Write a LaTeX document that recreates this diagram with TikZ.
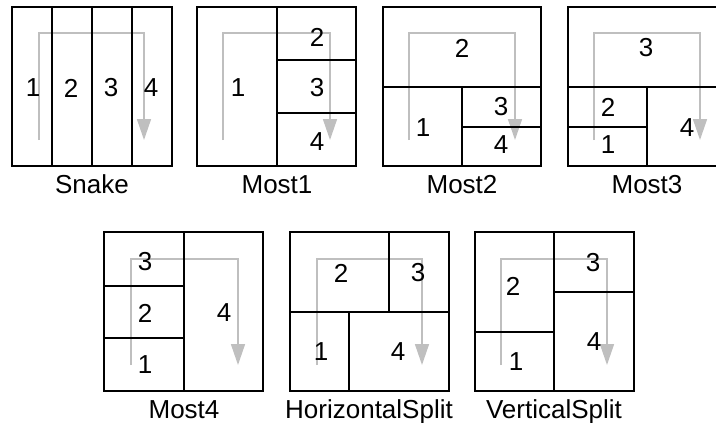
\documentclass[tikz,border=0pt]{standalone}
\usepackage{fontspec}
\setmainfont{Liberation Sans}
\usetikzlibrary{arrows.meta}

\begin{document}
\begin{tikzpicture}[x=1pt,y=-1pt]
\tikzset{
  cellline/.style={draw=black,line width=1.6pt,line join=miter},
  flowline/.style={draw=black!25,line width=1.6pt,-{Triangle[length=21pt,width=14pt]}},
  numlabel/.style={inner sep=0pt,font=\fontsize{26}{31}\selectfont},
  caption/.style={inner sep=0pt,anchor=base,font=\fontsize{26}{31}\selectfont}
}
\useasboundingbox (0,0) rectangle (716,423);
% flow arrows (behind the cells)
\coordinate (snake_s) at (39,140);  \coordinate (snake_t) at (144,33);  \coordinate (snake_e) at (144,140);
\coordinate (most1_s) at (223,140); \coordinate (most1_t) at (330,33);  \coordinate (most1_e) at (330,140);
\coordinate (most2_s) at (409,140); \coordinate (most2_t) at (515,33);  \coordinate (most2_e) at (515,140);
\coordinate (most3_s) at (594,140); \coordinate (most3_t) at (700,33);  \coordinate (most3_e) at (700,140);
\coordinate (most4_s) at (131,365); \coordinate (most4_t) at (238,259); \coordinate (most4_e) at (238,365);
\coordinate (hsplit_s) at (317,365); \coordinate (hsplit_t) at (422,259); \coordinate (hsplit_e) at (422,365);
\coordinate (vsplit_s) at (501,365); \coordinate (vsplit_t) at (607,259); \coordinate (vsplit_e) at (607,365);
\foreach \lay in {snake,most1,most2,most3,most4,hsplit,vsplit}
  \draw[flowline] (\lay_s) |- (\lay_t) -- (\lay_e);
% Snake
\draw[cellline] (12,7) rectangle (172,166);
\draw[cellline] (52,7) -- (52,166) (92,7) -- (92,166) (132,7) -- (132,166);
% Most1
\draw[cellline] (197,7) rectangle (356,166);
\draw[cellline] (277,7) -- (277,166) (277,60) -- (356,60) (277,113) -- (356,113);
% Most2
\draw[cellline] (383,7) rectangle (541,166);
\draw[cellline] (383,87) -- (541,87) (462,87) -- (462,166) (462,127) -- (541,127);
% Most3
\draw[cellline] (568,7) rectangle (727,166);
\draw[cellline] (568,87) -- (727,87) (647,87) -- (647,166) (568,127) -- (647,127);
% Most4
\draw[cellline] (104,232) rectangle (263,391);
\draw[cellline] (184,232) -- (184,391) (104,286) -- (184,286) (104,338) -- (184,338);
% HorizontalSplit
\draw[cellline] (290,232) rectangle (449,391);
\draw[cellline] (290,312) -- (449,312) (389,232) -- (389,312) (349,312) -- (349,391);
% VerticalSplit
\draw[cellline] (475,232) rectangle (634,391);
\draw[cellline] (554,232) -- (554,391) (475,332) -- (554,332) (554,292) -- (634,292);
% cell numbers
\node[numlabel] (snake1) at (33,88) {1};
\node[numlabel] (snake2) at (71,88) {2};
\node[numlabel] (snake3) at (111,88) {3};
\node[numlabel] (snake4) at (151,88) {4};
\node[numlabel] (most1_1) at (238,88) {1};
\node[numlabel] (most1_2) at (317,37) {2};
\node[numlabel] (most1_3) at (317,88) {3};
\node[numlabel] (most1_4) at (317,142) {4};
\node[numlabel] (most2_1) at (423,128) {1};
\node[numlabel] (most2_2) at (462,48) {2};
\node[numlabel] (most2_3) at (501,107) {3};
\node[numlabel] (most2_4) at (501,145) {4};
\node[numlabel] (most3_1) at (608,145) {1};
\node[numlabel] (most3_2) at (608,107) {2};
\node[numlabel] (most3_3) at (646,48) {3};
\node[numlabel] (most3_4) at (687,128) {4};
\node[numlabel] (most4_1) at (145,365) {1};
\node[numlabel] (most4_2) at (145,313) {2};
\node[numlabel] (most4_3) at (145,262) {3};
\node[numlabel] (most4_4) at (224,313) {4};
\node[numlabel] (hsplit1) at (321,352) {1};
\node[numlabel] (hsplit2) at (341,273) {2};
\node[numlabel] (hsplit3) at (418,273) {3};
\node[numlabel] (hsplit4) at (398,352) {4};
\node[numlabel] (vsplit1) at (516,362) {1};
\node[numlabel] (vsplit2) at (513,286) {2};
\node[numlabel] (vsplit3) at (593,263) {3};
\node[numlabel] (vsplit4) at (594,342) {4};
% captions
\node[caption] (snake_cap) at (92,193) {Snake};
\node[caption] (most1_cap) at (277,193) {Most1};
\node[caption] (most2_cap) at (462,193) {Most2};
\node[caption] (most3_cap) at (647,193) {Most3};
\node[caption] (most4_cap) at (184,418) {Most4};
\node[caption] (hsplit_cap) at (369,418) {HorizontalSplit};
\node[caption] (vsplit_cap) at (554,418) {VerticalSplit};
\end{tikzpicture}
\end{document}
